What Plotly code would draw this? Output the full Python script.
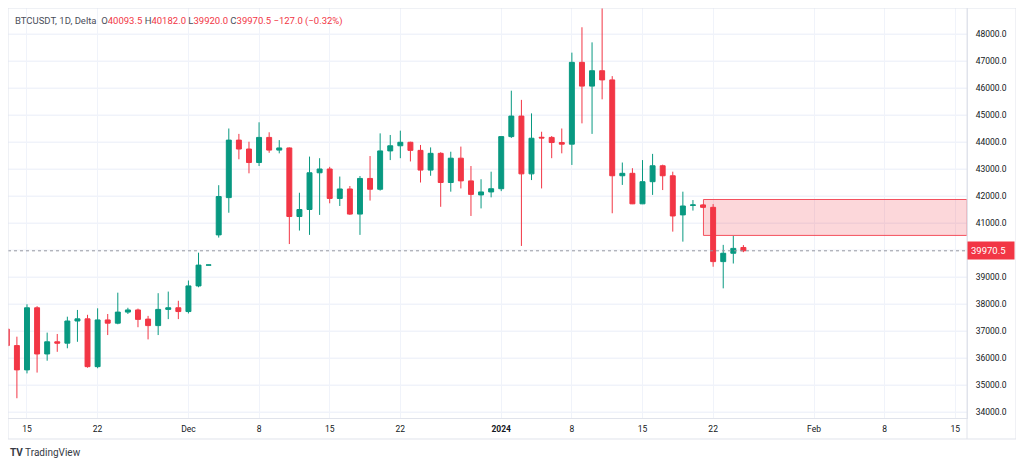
import plotly.graph_objects as go

dates = [
    "2023-11-13", "2023-11-14", "2023-11-15", "2023-11-16", "2023-11-17", "2023-11-18",
    "2023-11-19", "2023-11-20", "2023-11-21", "2023-11-22", "2023-11-23", "2023-11-24",
    "2023-11-25", "2023-11-26", "2023-11-27", "2023-11-28", "2023-11-29", "2023-11-30",
    "2023-12-01", "2023-12-02", "2023-12-03", "2023-12-04", "2023-12-05", "2023-12-06",
    "2023-12-07", "2023-12-08", "2023-12-09", "2023-12-10", "2023-12-11", "2023-12-12",
    "2023-12-13", "2023-12-14", "2023-12-15", "2023-12-16", "2023-12-17", "2023-12-18",
    "2023-12-19", "2023-12-20", "2023-12-21", "2023-12-22", "2023-12-23", "2023-12-24",
    "2023-12-25", "2023-12-26", "2023-12-27", "2023-12-28", "2023-12-29", "2023-12-30",
    "2023-12-31", "2024-01-01", "2024-01-02", "2024-01-03", "2024-01-04", "2024-01-05",
    "2024-01-06", "2024-01-07", "2024-01-08", "2024-01-09", "2024-01-10", "2024-01-11",
    "2024-01-12", "2024-01-13", "2024-01-14", "2024-01-15", "2024-01-16", "2024-01-17",
    "2024-01-18", "2024-01-19", "2024-01-20", "2024-01-21", "2024-01-22", "2024-01-23",
    "2024-01-24", "2024-01-25",
]

opens = [
    37070, 36460, 35560, 37860, 36150, 36600, 36550, 37370, 37450, 35680, 37410, 37290,
    37700, 37780, 37440, 37200, 37800, 37860, 37720, 38670, 39440, 40560, 41940, 44070,
    43740, 43240, 44170, 43700, 43780, 41240, 41500, 42860, 43000, 41910, 42260, 41330,
    42650, 42250, 43670, 43860, 43990, 43690, 42960, 43580, 42500, 43400, 42560, 42040,
    42150, 42270, 44200, 44960, 42820, 44175, 44170, 43980, 43920, 46950, 46070, 46640,
    46300, 42750, 42840, 41710, 42530, 43120, 42750, 41300, 41650, 41670, 41580, 39570,
    39880, 40093.5,
]
highs = [
    37100, 36790, 37990, 37920, 36940, 36890, 37530, 37780, 37600, 37840, 37630, 38420,
    37860, 37830, 37560, 38400, 38460, 38120, 38870, 39900, 39450, 42400, 44500, 44300,
    44010, 44730, 44360, 44070, 43800, 42120, 43460, 43400, 43080, 42720, 42370, 42740,
    43480, 44320, 44260, 44420, 44010, 43890, 43800, 43620, 43640, 43830, 43110, 42620,
    42900, 44200, 45900, 45560, 45060, 44380, 44220, 44500, 47310, 48250, 47690, 49100,
    46440, 43240, 43030, 43330, 43560, 43160, 42900, 42160, 41850, 41700, 41700, 40190,
    40520, 40182.0,
]
lows = [
    36420, 34510, 35430, 35460, 35900, 36230, 36360, 36600, 35640, 35620, 36850, 37250,
    37630, 37140, 36690, 36850, 37440, 37440, 37650, 38620, 39435, 40460, 41380, 43360,
    42840, 43110, 43600, 43580, 40220, 40720, 40560, 41300, 41730, 41630, 41300, 40560,
    41830, 42200, 43330, 43400, 43280, 42500, 42750, 41600, 42160, 42280, 41260, 41540,
    41950, 42180, 44150, 40150, 42590, 42280, 43400, 43580, 43150, 44690, 44300, 45580,
    41360, 42410, 41700, 41700, 42040, 42220, 40680, 40310, 41460, 41550, 39380, 38580,
    39500, 39920.0,
]
closes = [
    36460, 35560, 37860, 36150, 36600, 36550, 37370, 37450, 35680, 37410, 37290, 37700,
    37780, 37430, 37200, 37800, 37860, 37720, 38670, 39440, 39445, 41980, 44070, 43740,
    43240, 44170, 43700, 43780, 41240, 41500, 42860, 43000, 41910, 42260, 41330, 42650,
    42250, 43670, 43860, 43990, 43690, 42960, 43580, 42500, 43400, 42560, 42060, 42150,
    42270, 44200, 44960, 42820, 44140, 44150, 43980, 43920, 46950, 46070, 46640, 46300,
    42750, 42840, 41710, 42530, 43120, 42750, 41260, 41630, 41670, 41580, 39570, 39880,
    40060, 39970.5,
]

tick_dates = [
    "2023-11-15", "2023-11-22", "2023-12-01", "2023-12-08", "2023-12-15", "2023-12-22",
    "2024-01-01", "2024-01-08", "2024-01-15", "2024-01-22", "2024-02-01", "2024-02-08",
    "2024-02-15",
]
tick_labels = ["15", "22", "Dec", "8", "15", "22", "<b>2024</b>", "8", "15", "22", "Feb", "8", "15"]

# 40000 is hidden behind the last-price tag
price_ticks = [34000, 35000, 36000, 37000, 38000, 39000, 41000, 42000,
               43000, 44000, 45000, 46000, 47000, 48000]
grid_prices = [34000, 35000, 36000, 37000, 38000, 39000, 40000, 41000, 42000,
               43000, 44000, 45000, 46000, 47000, 48000]

zone_low = 40540
zone_high = 41870
zone_start = "2024-01-21 01:00"
last_price = 39970.5

UP = "#089981"
DOWN = "#f23645"
GRID = "#f0f3fa"
BORDER = "#e0e3eb"
TEXT = "#131722"

x_range = ["2023-11-13 02:50", "2024-02-16 03:50"]

fig = go.Figure(
    go.Candlestick(
        x=dates, open=opens, high=highs, low=lows, close=closes,
        increasing=dict(line=dict(color=UP, width=1), fillcolor=UP),
        decreasing=dict(line=dict(color=DOWN, width=1), fillcolor=DOWN),
        whiskerwidth=0,
        showlegend=False,
        hoverinfo="skip",
    )
)

# faint horizontal grid (incl. the level hidden under the price tag)
for p in grid_prices:
    fig.add_shape(type="line", xref="paper", yref="y", x0=0, x1=1, y0=p, y1=p,
                  line=dict(color=GRID, width=1), layer="below")

# supply zone
fig.add_shape(
    type="rect", xref="x", yref="y",
    x0=zone_start, x1=x_range[1], y0=zone_low, y1=zone_high,
    fillcolor="rgba(242,54,69,0.2)", line=dict(color="rgba(242,54,69,0.85)", width=1),
    layer="between",
)

# last price line
fig.add_shape(
    type="line", xref="paper", yref="y", x0=0, x1=1, y0=last_price, y1=last_price,
    line=dict(color="#9598a1", width=1, dash="dot"),
)

# outer frame around the price / time scales
fig.add_shape(type="line", xref="paper", yref="paper", x0=1, x1=1, y0=-0.0512, y1=1,
              line=dict(color=BORDER, width=1))
fig.add_shape(type="rect", xref="paper", yref="paper", x0=0, x1=1.0511, y0=-0.0512, y1=1,
              line=dict(color=BORDER, width=1))

fig.add_annotation(
    xref="paper", yref="y", x=1, y=last_price, xanchor="left", yanchor="middle",
    text="39970.5", showarrow=False, bgcolor=DOWN, borderpad=3, width=40, align="left",
    font=dict(color="white", size=9.5, family="Roboto"),
)

red = lambda s: "<span style='color:%s'>%s</span>" % (DOWN, s)
header = ("BTCUSDT, 1D, Delta  O" + red("40093.5") + " H" + red("40182.0") + " L" + red("39920.0")
          + " C" + red("39970.5") + " " + red("\u2212127.0 (\u22120.32%)"))
fig.add_annotation(
    xref="paper", yref="paper", x=0.005, y=0.968, xanchor="left", yanchor="middle",
    text=header, showarrow=False, font=dict(color="#4a4e5a", size=9.5, family="Roboto"),
)

fig.add_annotation(
    xref="paper", yref="paper", x=0.0, y=-0.083, xanchor="left", yanchor="middle",
    text="<b>TV</b> TradingView", showarrow=False,
    font=dict(color="#363a45", size=10, family="Roboto"),
)

# the page body has an 8px margin, so the figure is drawn 8px smaller
fig.update_layout(
    width=1016, height=459,
    margin=dict(l=0, r=57, t=0, b=49),
    paper_bgcolor="white", plot_bgcolor="white",
    font=dict(family="Roboto", color=TEXT, size=8.5),
    xaxis=dict(
        type="date", range=x_range, rangeslider=dict(visible=False),
        tickvals=tick_dates, ticktext=tick_labels,
        showgrid=True, gridcolor=GRID, zeroline=False,
        showline=True, linecolor=BORDER, mirror=True,
        ticks="", ticklabelstandoff=3, tickfont=dict(size=8.5, color=TEXT),
    ),
    yaxis=dict(
        side="right", range=[33778, 48963], tickvals=price_ticks,
        tickformat=".1f", showgrid=True, gridcolor=GRID, zeroline=False,
        showline=True, linecolor=BORDER, mirror=True,
        ticks="", ticklabelstandoff=6, tickfont=dict(size=8.5, color=TEXT),
    ),
)

fig.write_html("out.html")
